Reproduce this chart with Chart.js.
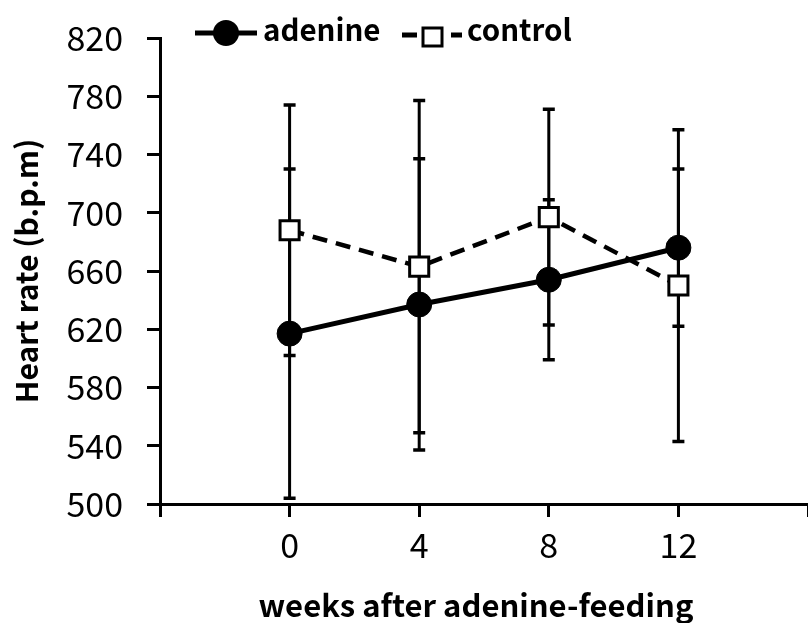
<!DOCTYPE html>
<html>
<head>
<meta charset="utf-8">
<script src="https://cdn.jsdelivr.net/npm/chart.js@4.4.1/dist/chart.umd.min.js"></script>
<style>
  html, body { margin: 0; padding: 0; background: #fff; }
  #wrap { position: relative; width: 808px; height: 623px; }
</style>
</head>
<body>
<div id="wrap"><canvas id="c" width="808" height="623"></canvas></div>
<script>
// ---- data ----
const weeks = [0, 4, 8, 12];
const adenineMean = [617, 637, 654, 676];
const adenineErr  = [113, 100, 55, 54];
const controlMean = [688, 663, 697, 650];
const controlErr  = [86, 114, 74, 107];
const yTicks = [500, 540, 580, 620, 660, 700, 740, 780, 820];
const xTickLabels = [0, 4, 8, 12];
const seriesNames = ['adenine', 'control'];
const xTitle = 'weeks after adenine-feeding';
const yTitle = 'Heart rate (b.p.m)';

const FONT = '"Noto Sans CJK JP", "Noto Sans", sans-serif';

const errorBars = {
  id: 'errorBars',
  beforeDatasetsDraw(chart) {
    const ctx = chart.ctx;
    const xs = chart.scales.x, ys = chart.scales.y;
    ctx.save();
    ctx.strokeStyle = '#000';
    chart.data.datasets.forEach(ds => {
      ds.data.forEach((p, i) => {
        const e = ds.errors[i];
        const x = xs.getPixelForValue(p.x);
        const yt = ys.getPixelForValue(p.y + e);
        const yb = ys.getPixelForValue(p.y - e);
        ctx.lineWidth = 3;
        ctx.beginPath();
        ctx.moveTo(x, yt); ctx.lineTo(x, yb);
        ctx.stroke();
        ctx.lineWidth = 3.5;
        ctx.beginPath();
        ctx.moveTo(x - 6, yt); ctx.lineTo(x + 6, yt);
        ctx.moveTo(x - 6, yb); ctx.lineTo(x + 6, yb);
        ctx.stroke();
      });
    });
    ctx.restore();
  }
};

const customLegend = {
  id: 'customLegend',
  afterDraw(chart) {
    const ctx = chart.ctx;
    const ds = chart.data.datasets;
    ctx.save();
    ctx.font = 'bold 29.5px ' + FONT;
    ctx.fillStyle = '#000';
    ctx.textBaseline = 'alphabetic';
    // adenine
    ctx.strokeStyle = '#000';
    ctx.lineWidth = 5;
    ctx.setLineDash([]);
    ctx.beginPath(); ctx.moveTo(195, 33); ctx.lineTo(257, 33); ctx.stroke();
    ctx.beginPath(); ctx.arc(226, 33, 13, 0, Math.PI * 2); ctx.fillStyle = '#000'; ctx.fill();
    ctx.fillText(ds[0].label, 263, 41);
    // control
    ctx.lineWidth = 5;
    ctx.beginPath(); ctx.moveTo(402, 35); ctx.lineTo(417, 35); ctx.moveTo(451, 35); ctx.lineTo(462, 35); ctx.stroke();
    ctx.lineWidth = 3;
    ctx.fillStyle = '#fff';
    ctx.fillRect(423, 28, 19, 18);
    ctx.strokeRect(423, 28, 19, 18);
    ctx.fillStyle = '#000';
    ctx.fillText(ds[1].label, 467, 41);
    // x axis title
    const ca = chart.chartArea;
    ctx.font = 'bold 31px ' + FONT;
    ctx.textAlign = 'center';
    ctx.textBaseline = 'middle';
    ctx.fillText(xTitle, (ca.left + ca.right) / 2 - 8, 605);
    ctx.restore();
  }
};

new Chart(document.getElementById('c'), {
  type: 'line',
  data: {
    datasets: [
      {
        label: seriesNames[0],
        data: weeks.map((w, i) => ({ x: w, y: adenineMean[i] })),
        errors: adenineErr,
        borderColor: '#000',
        backgroundColor: '#000',
        borderWidth: 5,
        pointStyle: 'circle',
        pointRadius: 12.5,
        pointBorderWidth: 1,
        pointBackgroundColor: '#000',
        pointBorderColor: '#000',
        tension: 0
      },
      {
        label: seriesNames[1],
        data: weeks.map((w, i) => ({ x: w, y: controlMean[i] })),
        errors: controlErr,
        borderColor: '#000',
        backgroundColor: '#fff',
        borderWidth: 4.5,
        borderDash: [15, 9],
        pointStyle: 'rect',
        pointRadius: 13.5,
        pointBorderWidth: 3,
        pointBackgroundColor: '#fff',
        pointBorderColor: '#000',
        tension: 0
      }
    ]
  },
  options: {
    responsive: false,
    animation: false,
    events: [],
    layout: { autoPadding: false, padding: { top: 38, left: 0, right: 0, bottom: 0 } },
    plugins: { legend: { display: false }, tooltip: { enabled: false } },
    scales: {
      x: {
        type: 'linear',
        min: -4,
        max: 16,
        afterBuildTicks: (s) => { s.ticks = [-4, 0, 4, 8, 12, 16].map(v => ({ value: v })); },
        ticks: {
          callback: (v) => xTickLabels.includes(v) ? String(v) : '',
          font: { family: FONT, size: 34 },
          color: '#000',
          padding: 8,
          maxRotation: 0,
          autoSkip: false
        },
        grid: { drawOnChartArea: false, drawTicks: true, tickLength: 13, lineWidth: 3, color: '#000' },
        border: { display: true, width: 3, color: '#000' },
        title: { display: false },
        afterFit: (s) => { s.height = 119; s.paddingLeft = 0; s.paddingRight = 0; }
      },
      y: {
        min: 500,
        max: 820,
        afterBuildTicks: (s) => { s.ticks = yTicks.map(v => ({ value: v })); },
        ticks: {
          font: { family: FONT, size: 34 },
          color: '#000',
          padding: 24
        },
        grid: { drawOnChartArea: false, drawTicks: true, tickLength: 13, lineWidth: 3, color: '#000' },
        border: { display: true, width: 3, color: '#000' },
        title: {
          display: true,
          text: yTitle,
          font: { family: FONT, size: 30, weight: 'bold' },
          color: '#000',
          padding: { top: 9, bottom: 0 }
        },
        afterFit: (s) => { s.width = 160; s.paddingTop = 0; s.paddingBottom = 0; }
      }
    }
  },
  plugins: [errorBars, customLegend]
});
</script>
</body>
</html>
